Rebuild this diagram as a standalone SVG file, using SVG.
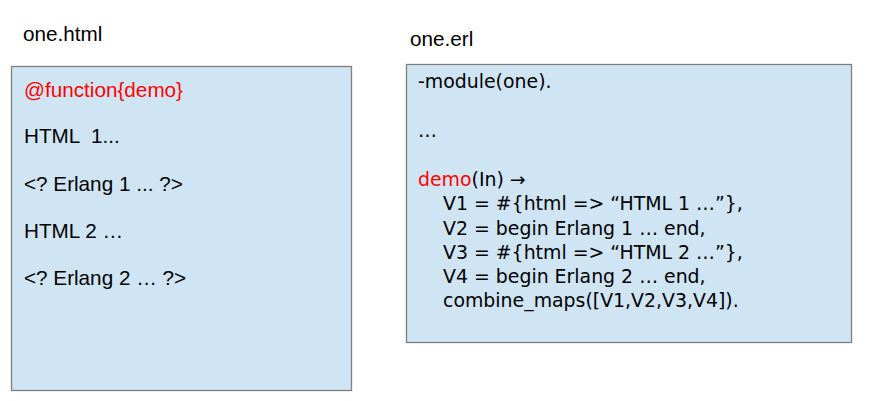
<svg xmlns="http://www.w3.org/2000/svg" width="871" height="401" viewBox="0 0 871 401">
<style>
.box{fill:#cfe5f3;stroke:#7f7f7f;stroke-width:1.3}
.h{font-family:"Liberation Sans",Arial,sans-serif;font-size:20.7px;fill:#000}
.c{font-family:"DejaVu Sans",Verdana,sans-serif;font-size:18.9px;fill:#000}
.red{fill:#ff0000}
</style>
<rect width="871" height="401" fill="#fff"/>
<g id="title-html"><text class="h" x="23" y="41">one.html</text></g>
<g id="title-erl"><text class="h" x="410" y="46">one.erl</text></g>
<g id="html-box">
<rect class="box" x="11.5" y="66.5" width="340" height="324"/>
<text class="h" x="24" y="97"><tspan class="red">@function{demo}</tspan></text>
<text class="h" x="24" y="143" xml:space="preserve">HTML  1...</text>
<text class="h" x="24" y="190.5">&lt;? Erlang 1 ... ?&gt;</text>
<text class="h" x="24" y="237.5">HTML 2 …</text>
<text class="h" x="24" y="284.5">&lt;? Erlang 2 … ?&gt;</text>
</g>
<g id="erl-box">
<rect class="box" x="406.5" y="64.5" width="445" height="278"/>
<text class="c" x="418" y="88">-module(one).</text>
<text class="c" x="418" y="137">…</text>
<text class="c" x="418" y="186"><tspan class="red">demo</tspan>(In) →</text>
<text class="c" x="443" y="210">V1 = #{html =&gt; “HTML 1 …”},</text>
<text class="c" x="443" y="235">V2 = begin Erlang 1 … end,</text>
<text class="c" x="443" y="259">V3 = #{html =&gt; “HTML 2 …”},</text>
<text class="c" x="443" y="283">V4 = begin Erlang 2 … end,</text>
<text class="c" x="443" y="307">combine_maps([V1,V2,V3,V4]).</text>
</g>
</svg>
